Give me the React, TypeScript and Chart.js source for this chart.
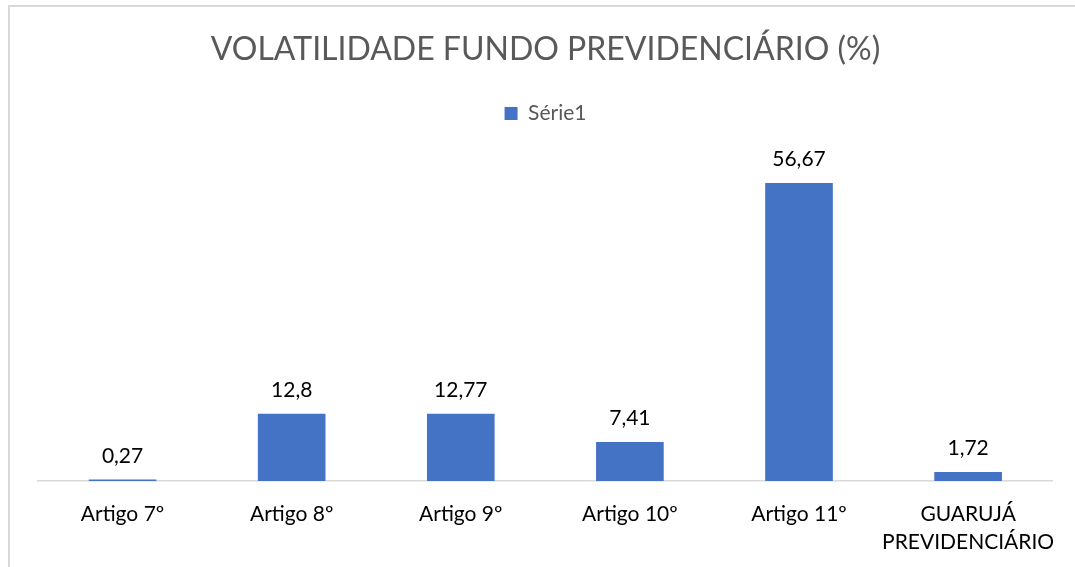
import React, { useEffect, useRef } from "react";
import { Chart, registerables } from "chart.js";

Chart.register(...registerables);

const categories: (string | string[])[] = [
  "Artigo 7º",
  "Artigo 8º",
  "Artigo 9º",
  "Artigo 10º",
  "Artigo 11º",
  ["GUARUJÁ", "PREVIDENCIÁRIO"],
];
const seriesName = "Série1";
const values = [0.27, 12.8, 12.77, 7.41, 56.67, 1.72];
const chartTitle = "VOLATILIDADE FUNDO PREVIDENCIÁRIO (%)";

const FONT = "Lato, 'Open Sans', sans-serif";

const dataLabels = {
  id: "dataLabels",
  afterDatasetsDraw(chart: any) {
    const ctx = chart.ctx;
    const meta = chart.getDatasetMeta(0);
    ctx.save();
    ctx.font = `21px ${FONT}`;
    ctx.fillStyle = "#000000";
    ctx.textAlign = "center";
    ctx.textBaseline = "alphabetic";
    meta.data.forEach((el: any, i: number) => {
      const v = chart.data.datasets[0].data[i] as number;
      ctx.fillText(String(v).replace(".", ","), el.x, el.y - 17);
    });
    ctx.restore();
  },
};

export default function App() {
  const ref = useRef<HTMLCanvasElement | null>(null);
  useEffect(() => {
    if (!ref.current) return;
    const chart = new Chart(ref.current, {
      type: "bar",
      data: {
        labels: categories,
        datasets: [
          {
            label: seriesName,
            data: values,
            backgroundColor: "#4472C4",
            barPercentage: 0.4,
            categoryPercentage: 1,
          },
        ],
      },
      options: {
        animation: false,
        responsive: true,
        maintainAspectRatio: false,
        layout: { padding: { left: 28, right: 22, top: 0, bottom: 11 } },
        plugins: {
          title: {
            display: true,
            text: chartTitle,
            color: "#595959",
            font: { family: FONT, size: 32, weight: "normal" },
            padding: { top: 23, bottom: 24.6 },
          },
          legend: {
            display: true,
            labels: {
              color: "#595959",
              font: { family: FONT, size: 21 },
              boxWidth: 13,
              boxHeight: 13,
              padding: 10,
            },
          },
          tooltip: { enabled: false },
        },
        scales: {
          x: {
            grid: { display: false, drawTicks: false },
            border: { display: true, color: "#d9d9d9", width: 1.5 },
            ticks: {
              color: "#000000",
              font: { family: FONT, size: 21, lineHeight: 1.333 },
              padding: 19,
              maxRotation: 0,
              autoSkip: false,
            },
            afterFit(scale: any) {
              scale.height = 75;
            },
          },
          y: {
            display: false,
            min: 0,
            max: 66,
          },
        },
      },
      plugins: [dataLabels],
    });
    return () => chart.destroy();
  }, []);
  return (
    <div
      style={{
        position: "absolute",
        left: 8,
        top: 5,
        width: 1067,
        height: 562,
        borderTop: "2px solid #d9d9d9",
        borderLeft: "2px solid #d9d9d9",
        boxSizing: "border-box",
        background: "#fff",
      }}
    >
      <div style={{ position: "relative", width: 1065, height: 560 }}>
        <canvas ref={ref} />
      </div>
    </div>
  );
}
